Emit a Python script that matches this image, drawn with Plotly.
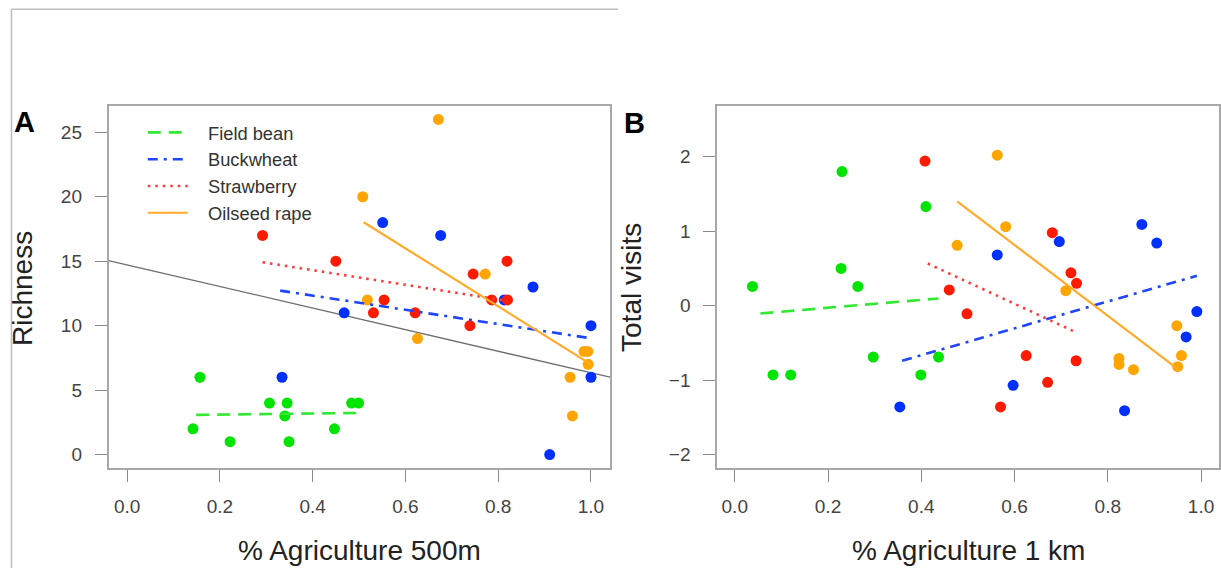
import plotly.graph_objects as go

W, H = 1221, 568

crops = ["Field bean", "Buckwheat", "Strawberry", "Oilseed rape"]
colors = ["#00e400", "#0030ff", "#ff1a00", "#ffa500"]
line_colors = ["#33e833", "#1f45ff", "#ff3b3b", "#ffaa2a"]
dashes = ["13px,8px", "10px,6px,3px,6px", "2.5px,5px", "solid"]

# ---- Panel A: Richness vs % Agriculture 500m ----
a_x = {
    "Field bean": [0.157, 0.142, 0.222, 0.307, 0.345, 0.340, 0.349, 0.447, 0.484, 0.499],
    "Buckwheat": [0.334, 0.468, 0.551, 0.676, 0.813, 0.875, 0.911, 1.0, 1.0],
    "Strawberry": [0.292, 0.450, 0.531, 0.554, 0.621, 0.739, 0.746, 0.786, 0.820, 0.819],
    "Oilseed rape": [0.508, 0.518, 0.626, 0.671, 0.772, 0.955, 0.960, 0.985, 0.993, 0.994],
}
a_y = {
    "Field bean": [6, 2, 1, 4, 4, 3, 1, 2, 4, 4],
    "Buckwheat": [6, 11, 18, 17, 12, 13, 0, 10, 6],
    "Strawberry": [17, 15, 11, 12, 11, 10, 14, 12, 12, 15],
    "Oilseed rape": [20, 12, 9, 26, 14, 6, 3, 8, 8, 7],
}
a_fit_x = {
    "Field bean": [0.149, 0.499],
    "Buckwheat": [0.330, 1.0],
    "Strawberry": [0.292, 0.820],
    "Oilseed rape": [0.510, 1.0],
}
a_fit_y = {
    "Field bean": [3.08, 3.23],
    "Buckwheat": [12.72, 9.02],
    "Strawberry": [14.92, 11.92],
    "Oilseed rape": [18.02, 7.0],
}
a_all_x = [-0.04, 1.041]
a_all_y = [15.05, 6.0]

# ---- Panel B: Total visits vs % Agriculture 1 km ----
b_x = {
    "Field bean": [0.038, 0.082, 0.120, 0.230, 0.228, 0.264, 0.297, 0.399, 0.410, 0.437],
    "Buckwheat": [0.354, 0.563, 0.597, 0.696, 0.836, 0.873, 0.905, 0.968, 0.991],
    "Strawberry": [0.408, 0.460, 0.498, 0.570, 0.625, 0.671, 0.681, 0.721, 0.732, 0.733],
    "Oilseed rape": [0.477, 0.563, 0.581, 0.710, 0.824, 0.824, 0.855, 0.948, 0.958, 0.950],
}
b_y = {
    "Field bean": [0.257, -0.93, -0.93, 1.80, 0.50, 0.257, -0.69, -0.93, 1.33, -0.69],
    "Buckwheat": [-1.36, 0.68, -1.07, 0.86, -1.41, 1.09, 0.84, -0.42, -0.08],
    "Strawberry": [1.94, 0.21, -0.11, -1.36, -0.67, -1.03, 0.98, 0.44, -0.74, 0.30],
    "Oilseed rape": [0.81, 2.02, 1.06, 0.20, -0.71, -0.79, -0.86, -0.27, -0.67, -0.82],
}
b_fit_x = {
    "Field bean": [0.055, 0.437],
    "Buckwheat": [0.359, 0.991],
    "Strawberry": [0.414, 0.729],
    "Oilseed rape": [0.477, 0.954],
}
b_fit_y = {
    "Field bean": [-0.105, 0.096],
    "Buckwheat": [-0.74, 0.40],
    "Strawberry": [0.565, -0.35],
    "Oilseed rape": [1.40, -0.87],
}

a_yticks = [0, 5, 10, 15, 20, 25]
b_yticks = [-2, -1, 0, 1, 2]
xticks = [0.0, 0.2, 0.4, 0.6, 0.8, 1.0]
xtick_text = ["0.0", "0.2", "0.4", "0.6", "0.8", "1.0"]

fig = go.Figure()

# overall fit in panel A
fig.add_trace(go.Scatter(x=a_all_x, y=a_all_y, mode="lines", xaxis="x", yaxis="y",
                         line=dict(color="#6e6e6e", width=1.3), showlegend=False, hoverinfo="skip"))

for i, c in enumerate(crops):
    fig.add_trace(go.Scatter(x=a_x[c], y=a_y[c], mode="markers", xaxis="x", yaxis="y",
                             marker=dict(color=colors[i], size=11), showlegend=False, name=c))
    fig.add_trace(go.Scatter(x=b_x[c], y=b_y[c], mode="markers", xaxis="x2", yaxis="y2",
                             marker=dict(color=colors[i], size=11), showlegend=False, name=c))

for i, c in enumerate(crops):
    w = 2.2 if c == "Oilseed rape" else 2.6
    fig.add_trace(go.Scatter(x=a_fit_x[c], y=a_fit_y[c], mode="lines", xaxis="x", yaxis="y",
                             line=dict(color=line_colors[i], width=w, dash=dashes[i]),
                             name="&nbsp;&nbsp;&nbsp;" + c, showlegend=True))
    fig.add_trace(go.Scatter(x=b_fit_x[c], y=b_fit_y[c], mode="lines", xaxis="x2", yaxis="y2",
                             line=dict(color=line_colors[i], width=w, dash=dashes[i]),
                             name=c, showlegend=False))

def px(x):
    return x / W

def py(y):
    return 1 - y / H

axis_common = dict(showline=True, mirror=True, linecolor="#a8a8a8", linewidth=1.5,
                   showgrid=False, zeroline=False, ticks="outside", ticklen=12,
                   tickcolor="#8a8a8a", tickwidth=1.2,
                   tickfont=dict(family="Liberation Sans, Arial, sans-serif", size=19, color="#444"))

ydom = [py(468), py(106)]

fig.update_layout(
    width=W, height=H,
    margin=dict(l=0, r=0, t=0, b=0),
    paper_bgcolor="white", plot_bgcolor="white",
    xaxis=dict(domain=[px(108.7), px(611)], range=[-0.04, 1.041], tickvals=xticks,
               ticktext=xtick_text, anchor="y", ticklabelstandoff=8, **axis_common),
    yaxis=dict(domain=ydom, range=[-1.04, 27.04], tickvals=a_yticks, anchor="x",
               ticklabelstandoff=9, **axis_common),
    xaxis2=dict(domain=[px(718.2), 1.0], range=[-0.038, 1.0385], tickvals=xticks,
                ticktext=xtick_text, anchor="y2", ticklabelstandoff=8, **axis_common),
    yaxis2=dict(domain=ydom, range=[-2.18, 2.68], tickvals=b_yticks, anchor="x2",
                ticklabelstandoff=9, **axis_common),
    legend=dict(x=px(143), y=py(114), xanchor="left", yanchor="top",
                bgcolor="rgba(0,0,0,0)", itemwidth=40, tracegroupgap=0,
                font=dict(family="Liberation Sans, Arial, sans-serif", size=18.3, color="#333")),
    showlegend=True,
)

title_font = dict(family="Liberation Sans, Arial, sans-serif", size=28, color="#222")
letter_font = dict(family="Liberation Sans, Arial, sans-serif", size=29, color="#000")
ann = dict(xref="paper", yref="paper", showarrow=False, xanchor="center", yanchor="middle")
fig.add_annotation(text="<b>A</b>", x=px(25), y=py(122), font=letter_font, **ann)
fig.add_annotation(text="<b>B</b>", x=px(636), y=py(123), font=letter_font, **ann)
fig.add_annotation(text="Richness", x=px(22), y=py(288), textangle=-90, font=title_font, **ann)
fig.add_annotation(text="Total visits", x=px(632), y=py(287), textangle=-90, font=title_font, **ann)
fig.add_annotation(text="% Agriculture 500m", x=px(360), y=py(550), font=title_font, **ann)
fig.add_annotation(text="% Agriculture 1 km", x=px(970), y=py(550), font=title_font, **ann)

# page frame lines (from the source figure's crop)
fig.add_shape(type="line", xref="paper", yref="paper", x0=px(11.5), x1=px(11.5), y0=0, y1=py(9.3),
              line=dict(color="#bdbdbd", width=1.5))
fig.add_shape(type="line", xref="paper", yref="paper", x0=px(11.5), x1=px(619), y0=py(9.3), y1=py(9.3),
              line=dict(color="#bdbdbd", width=1.5))

fig.write_html("out.html", config={"displayModeBar": False},
               post_script="document.body.style.margin='0';")
